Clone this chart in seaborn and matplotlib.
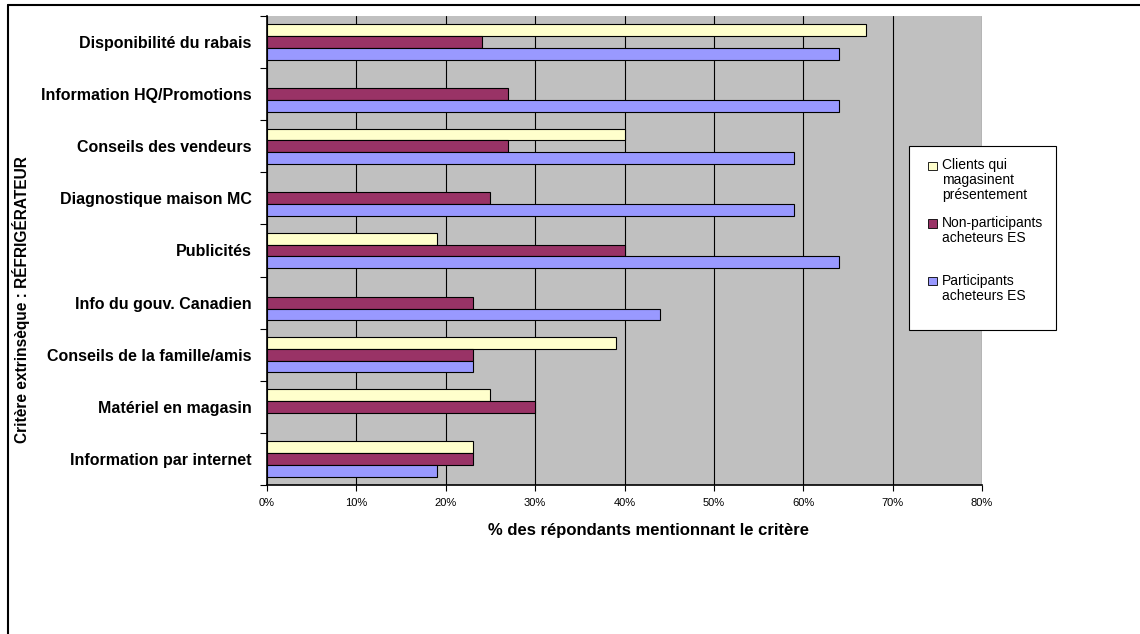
import numpy as np
import pandas as pd
import matplotlib
matplotlib.use("Agg")
import matplotlib.pyplot as plt
from matplotlib.lines import Line2D
from matplotlib.patches import Patch, Rectangle
from matplotlib.legend_handler import HandlerPatch
import seaborn as sns

categories = [
    "Disponibilité du rabais",
    "Information HQ/Promotions",
    "Conseils des vendeurs",
    "Diagnostique maison MC",
    "Publicités",
    "Info du gouv. Canadien",
    "Conseils de la famille/amis",
    "Matériel en magasin",
    "Information par internet",
]
series_names = [
    "Clients qui\nmagasinent\nprésentement",
    "Non-participants\nacheteurs ES",
    "Participants\nacheteurs ES",
]
clients = [67, np.nan, 40, np.nan, 19, np.nan, 39, 25, 23]
non_participants = [24, 27, 27, 25, 40, 23, 23, 30, 23]
participants = [64, 64, 59, 59, 64, 44, 23, np.nan, 19]
colors = ["#FFFFCC", "#993366", "#9999FF"]
x_ticks = [0, 10, 20, 30, 40, 50, 60, 70, 80]

rows = []
for s, vals in zip(series_names, [clients, non_participants, participants]):
    for c, v in zip(categories, vals):
        rows.append({"cat": c, "series": s, "val": v})
df = pd.DataFrame(rows)

sns.set_theme(style="white")
plt.rcParams["font.family"] = ["Liberation Sans", "DejaVu Sans"]
for k in ["text.color", "axes.labelcolor", "xtick.color", "ytick.color"]:
    plt.rcParams[k] = "black"

W, H = 1140, 634
fig = plt.figure(figsize=(W / 100, H / 100), dpi=100)
ax = fig.add_axes([267 / W, 1 - 485 / H, 715 / W, 469 / H])
ax.set_facecolor("#C0C0C0")

sns.barplot(data=df, y="cat", x="val", hue="series", order=categories,
            hue_order=series_names, palette=colors, orient="h",
            edgecolor="black", linewidth=0.8, width=0.68, ax=ax,
            legend=False, saturation=1)

ax.set_xlim(0, 80)
ax.set_ylim(len(categories) - 0.5, -0.5)
ax.set_xticks(x_ticks)
ax.set_xticklabels([f"{t}%" for t in x_ticks], fontsize=8)
ax.xaxis.grid(True, color="black", linewidth=0.8)
ax.set_axisbelow(True)
ax.tick_params(axis="x", length=4, width=0.8, color="black", direction="out",
               pad=5, bottom=True)
ax.set_yticks(range(len(categories)))
ax.set_yticklabels(categories, fontsize=11.5, fontweight="bold")
ax.tick_params(axis="y", which="major", length=0, pad=11)
ax.set_yticks(np.arange(-0.5, len(categories), 1), minor=True)
ax.tick_params(axis="y", which="minor", length=5, width=0.8, color="black",
               left=True)

for side in ["top", "right"]:
    ax.spines[side].set_visible(False)
for side in ["left", "bottom"]:
    ax.spines[side].set_color("black")
    ax.spines[side].set_linewidth(1.2)

ax.set_xlabel("% des répondants mentionnant le critère", fontsize=12,
              fontweight="bold", labelpad=12)
ax.xaxis.set_label_coords((648 - 267) / 715, (485 - 523) / 469)
ax.set_ylabel("")
fig.text(21 / W, 1 - 300 / H, "Critère extrinsèque : RÉFRIGÉRATEUR",
         rotation=90, fontsize=11.2, fontweight="bold", ha="center",
         va="center")


def top_square(nlines):
    def f(legend, orig_handle, xdescent, ydescent, width, height, fontsize):
        off = (nlines - 1) * 0.55 * fontsize
        side = 0.6 * fontsize
        return Rectangle((-xdescent + width - side, -ydescent + off), side, side)
    return f


leg_labels = [
    series_names[0],
    series_names[1] + "\n ",
    series_names[2] + "\n ",
]
handles = [Patch(facecolor=c, edgecolor="black", linewidth=0.6, label=l)
           for c, l in zip(colors, leg_labels)]
hmap = {h: HandlerPatch(patch_func=top_square(3)) for h in handles}
leg = ax.legend(handles=handles, handler_map=hmap, loc="upper left",
                bbox_to_anchor=(909 / W, 1 - 146 / H),
                bbox_transform=fig.transFigure, fontsize=10, frameon=True,
                fancybox=False, edgecolor="black", handlelength=1.1,
                handleheight=0.6, handletextpad=0.4, labelspacing=1.0,
                borderpad=0.9, borderaxespad=0, framealpha=1)
leg.get_frame().set_linewidth(0.8)
for t in leg.get_texts():
    t.set_linespacing(1.08)

fig.add_artist(Line2D([8 / W, 1], [1 - 5 / H, 1 - 5 / H], color="black",
                      linewidth=1.5, transform=fig.transFigure))
fig.add_artist(Line2D([8 / W, 8 / W], [0, 1 - 5 / H], color="black",
                      linewidth=1.5, transform=fig.transFigure))

fig.savefig("out.png", dpi=100, facecolor="white")
